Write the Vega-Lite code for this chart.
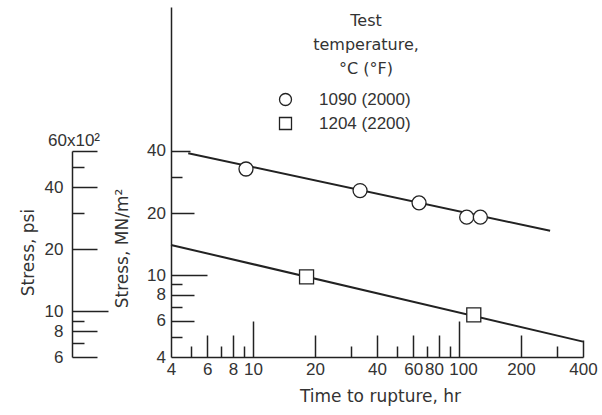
{
  "$schema": "https://vega.github.io/schema/vega-lite/v6.json",
  "width": 412,
  "height": 350,
  "autosize": {"type": "none"},
  "padding": {"left": 171, "top": 7, "right": 19, "bottom": 58},
  "background": "white",
  "title": {
    "text": ["Test", "temperature,", "°C   (°F)"],
    "anchor": "middle",
    "frame": "group",
    "orient": "top",
    "baseline": "top",
    "offset": -70,
    "dx": -11,
    "font": "DejaVu Sans",
    "fontSize": 16,
    "fontWeight": "normal",
    "color": "#333",
    "lineHeight": 24
  },
  "datasets": {
    "fits": [
      {"temp": "1090 (2000)", "hours": 4.85, "stress": 39},
      {"temp": "1090 (2000)", "hours": 277, "stress": 16.4},
      {"temp": "1204 (2200)", "hours": 4, "stress": 14},
      {"temp": "1204 (2200)", "hours": 400, "stress": 4.75}
    ],
    "tests": [
      {"temp": "1090 (2000)", "hours": 9.25, "stress": 32.7},
      {"temp": "1090 (2000)", "hours": 33.1, "stress": 25.7},
      {"temp": "1090 (2000)", "hours": 64, "stress": 22.4},
      {"temp": "1090 (2000)", "hours": 109, "stress": 19.1},
      {"temp": "1090 (2000)", "hours": 127, "stress": 19.1},
      {"temp": "1204 (2200)", "hours": 18.2, "stress": 9.8},
      {"temp": "1204 (2200)", "hours": 118, "stress": 6.4}
    ],
    "psiAxis": [
      {"psi": 6},
      {"psi": 60}
    ]
  },
  "layer": [
    {
      "encoding": {
        "x": {
          "field": "hours",
          "type": "quantitative",
          "scale": {"type": "log", "domain": [4, 400], "nice": false},
          "axis": {
            "title": "Time to rupture,  hr",
            "values": [4, 5, 6, 7, 8, 9, 10, 20, 30, 40, 50, 60, 70, 80, 90, 100, 200, 300, 400],
            "labelExpr": "indexof([4,6,8,10,20,40,60,80,100,200,400], datum.value) >= 0 ? '' + datum.value : ''",
            "tickSize": {"expr": "(datum.value == 10 || datum.value == 100) ? -36 : datum.value == 400 ? -17 : datum.value == 4 ? 0 : indexof([6,8,20,40,60,80,200], datum.value) >= 0 ? -22 : -11"},
            "labelPadding": {"expr": "(datum.value == 10 || datum.value == 100) ? 40 : datum.value == 400 ? 21 : datum.value == 4 ? 4 : indexof([6,8,20,40,60,80,200], datum.value) >= 0 ? 26 : 15"},
            "labelOffset": {"expr": "datum.value == 80 ? -5 : datum.value == 100 ? 4 : 0"},
            "labelBaseline": "top",
            "labelFlush": false,
            "labelOverlap": false,
            "titleBaseline": "alphabetic",
            "titleY": 44,
            "titleX": 209
          }
        },
        "y": {
          "field": "stress",
          "type": "quantitative",
          "scale": {"type": "log", "domain": [4, 200], "nice": false},
          "axis": {
            "orient": "left",
            "title": "Stress,  MN/m²",
            "values": [4, 5, 6, 7, 8, 9, 10, 20, 30, 40],
            "labelExpr": "indexof([4,6,8,10,20,40], datum.value) >= 0 ? '' + datum.value : ''",
            "tickSize": {"expr": "datum.value == 10 ? -36 : datum.value == 40 ? -19 : datum.value == 4 ? 0 : indexof([6,8,20], datum.value) >= 0 ? -23 : -11"},
            "labelPadding": {"expr": "datum.value == 10 ? 41.5 : datum.value == 40 ? 24.5 : datum.value == 4 ? 5.5 : indexof([6,8,20], datum.value) >= 0 ? 28.5 : 16.5"},
            "labelFlush": false,
            "labelOverlap": false,
            "titleBaseline": "alphabetic",
            "titleX": -44,
            "titleY": 241
          }
        }
      },
      "layer": [
        {
          "data": {"name": "fits"},
          "mark": {"type": "line", "color": "#222", "strokeWidth": 2},
          "encoding": {"detail": {"field": "temp"}}
        },
        {
          "data": {"name": "tests"},
          "mark": {"type": "point", "filled": false, "fill": "white", "fillOpacity": 1, "strokeWidth": 1.3, "size": 196},
          "encoding": {
            "stroke": {
              "field": "temp",
              "type": "nominal",
              "scale": {"domain": ["1090 (2000)", "1204 (2200)"], "range": ["#222222", "#222222"]},
              "legend": {
                "orient": "none",
                "legendX": 106,
                "legendY": 84,
                "title": null,
                "labelFont": "Liberation Sans",
                "labelFontSize": 17,
                "labelColor": "#333",
                "labelOffset": 25,
                "symbolSize": 144,
                "symbolStrokeWidth": 1.3,
                "rowPadding": 5
              }
            },
            "shape": {
              "field": "temp",
              "type": "nominal",
              "scale": {"domain": ["1090 (2000)", "1204 (2200)"], "range": ["circle", "square"]},
              "legend": {
                "orient": "none",
                "legendX": 106,
                "legendY": 84,
                "title": null,
                "labelFont": "Liberation Sans",
                "labelFontSize": 17,
                "labelColor": "#333",
                "labelOffset": 25,
                "symbolSize": 144,
                "symbolStrokeWidth": 1.3,
                "rowPadding": 5
              }
            }
          }
        }
      ]
    },
    {
      "data": {"name": "psiAxis"},
      "mark": {"type": "tick", "color": "transparent"},
      "encoding": {
        "y": {
          "field": "psi",
          "type": "quantitative",
          "scale": {"type": "log", "domain": [6, 300], "nice": false},
          "axis": {
            "orient": "left",
            "offset": 99,
            "title": "Stress,  psi",
            "values": [6, 7, 8, 9, 10, 20, 30, 40, 50, 60],
            "labelExpr": "datum.value == 60 ? '60x10²' : indexof([6,8,10,20,40], datum.value) >= 0 ? '' + datum.value : ''",
            "tickSize": {"expr": "datum.value == 10 ? -36 : indexof([6,8,20,40,60], datum.value) >= 0 ? -25 : -12"},
            "labelPadding": {"expr": "datum.value == 60 ? 23.5 : datum.value == 10 ? 45 : indexof([6,8,20,40], datum.value) >= 0 ? 34 : 21"},
            "labelAlign": {"condition": {"test": "datum.value == 60", "value": "center"}, "value": "right"},
            "labelBaseline": {"condition": {"test": "datum.value == 60", "value": "alphabetic"}, "value": "middle"},
            "labelOffset": {"expr": "datum.value == 60 ? -5 : 0"},
            "labelFlush": false,
            "labelOverlap": false,
            "domainDash": [206, 1000],
            "titleBaseline": "alphabetic",
            "titleX": -39,
            "titleY": 245
          }
        }
      }
    }
  ],
  "resolve": {"scale": {"y": "independent"}, "axis": {"y": "independent"}},
  "config": {
    "view": {"stroke": null},
    "axis": {
      "grid": false,
      "domainColor": "#222",
      "domainWidth": 1.5,
      "tickColor": "#222",
      "tickWidth": 1.5,
      "labelFont": "Liberation Sans",
      "labelFontSize": 17,
      "labelColor": "#333",
      "titleFont": "DejaVu Sans",
      "titleFontSize": 17,
      "titleFontWeight": "normal",
      "titleColor": "#333"
    }
  }
}
